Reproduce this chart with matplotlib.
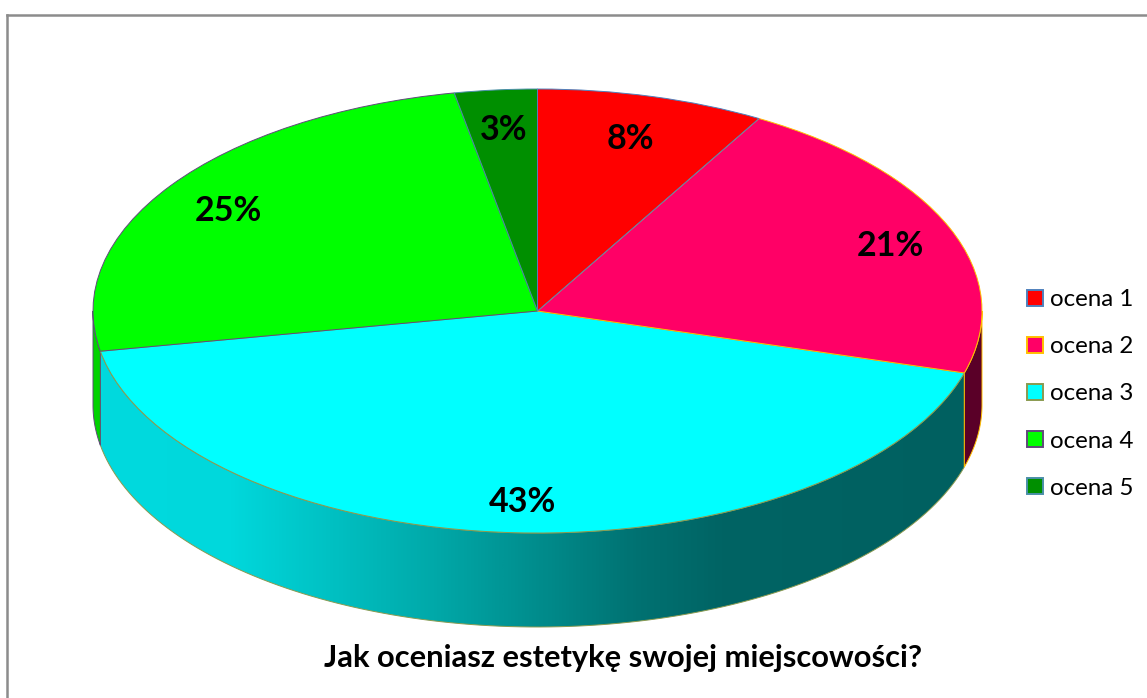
#!/usr/bin/env python3
# -*- coding: utf-8 -*-
"""Tilted 3D-look pie chart: Jak oceniasz estetyke swojej miejscowosci?"""

import numpy as np
import matplotlib
matplotlib.use("Agg")
import matplotlib.pyplot as plt
from matplotlib.colors import LinearSegmentedColormap
from matplotlib.patches import Patch, Polygon

# ---- DATA ----
categories = ["ocena 1", "ocena 2", "ocena 3", "ocena 4", "ocena 5"]
values = [8.3, 21.2, 42.6, 24.9, 3.0]
title = "Jak oceniasz estetykę swojej miejscowości?"

# ---- STYLE ----
face_colors = ["#FF0000", "#FF0066", "#00FFFF", "#00FF00", "#008F00"]
edge_colors = ["#4F81BD", "#FFC000", "#8A9A50", "#604A7B", "#4A8FA8"]
wall_colors = ["#B00000", "#5A0028", "#00D8DC", "#00D200", "#006600"]
cyan_wall_stops = [(0.0, "#00DADE"), (0.15, "#00D8DC"), (0.39, "#00A8A8"),
                   (0.62, "#007272"), (0.72, "#006464"), (1.0, "#006060")]
face_zorder = [3.5, 3.4, 3.0, 3.2, 3.3]  # which outline wins on a shared border
wall_zorder = [2.0, 2.2, 2.0, 2.0, 2.0]

W, H = 1147, 698
cx, cy, rx, ry, depth_px = 537.5, 311.0, 444.5, 222.0, 94.0
depth = depth_px / ry
label_px = [(630, 139), (890, 246), (522, 502), (228, 211), (504, 130)]

plt.rcParams["font.family"] = ["Lato", "DejaVu Sans"]


def to_unit(px, py):
    return (px - cx) / rx, (cy - py) / ry


def main():
    fig = plt.figure(figsize=(W / 100, H / 100), dpi=100)
    ax = fig.add_axes([0, 0, 1, 1])

    # outer chart frame, right and bottom sides are cut off in the picture
    fig.add_artist(plt.Line2D([7.5 / W, 7.5 / W], [0, 1 - 15 / H], color="#8C8C8C", lw=1.8))
    fig.add_artist(plt.Line2D([7.5 / W, 1], [1 - 15 / H, 1 - 15 / H], color="#8C8C8C", lw=1.8))

    # side wall, only the front half (90..270 deg clockwise from top) shows
    edges = np.cumsum([0] + values) / sum(values) * 360
    for i in range(len(values)):
        t0, t1 = max(edges[i], 90), min(edges[i + 1], 270)
        if t1 <= t0:
            continue
        t = np.radians(np.linspace(t0, t1, 120))
        x, y = np.sin(t), np.cos(t)
        pts = np.column_stack([np.r_[x, x[::-1]], np.r_[y, y[::-1] - depth]])
        if categories[i] == "ocena 3":
            poly = Polygon(pts, closed=True, facecolor="none", edgecolor=edge_colors[i], lw=0.7,
                           zorder=wall_zorder[i])
            ax.add_patch(poly)
            cmap = LinearSegmentedColormap.from_list("wall", cyan_wall_stops)
            img = ax.imshow(np.linspace(0, 1, 512)[None, :], cmap=cmap, aspect="auto",
                            extent=(x.min(), x.max(), -1 - depth, 0), zorder=1)
            img.set_clip_path(poly)
        else:
            ax.add_patch(Polygon(pts, closed=True, facecolor=wall_colors[i],
                                 edgecolor=edge_colors[i], lw=0.7, zorder=wall_zorder[i]))

    # top face, axes are not equal so the circle gets squashed into an ellipse
    wedges, _ = ax.pie(values, startangle=90, counterclock=False, colors=face_colors, radius=1,
                       wedgeprops={"linewidth": 0.7})
    for w, ec, z in zip(wedges, edge_colors, face_zorder):
        w.set_edgecolor(ec)
        w.set_zorder(z)

    ax.set_aspect("auto")
    ax.set_xlim(to_unit(0, 0)[0], to_unit(W, 0)[0])
    ax.set_ylim(to_unit(0, H)[1], to_unit(0, 0)[1])
    ax.axis("off")

    for v, (px, py) in zip(values, label_px):
        lx, ly = to_unit(px, py)
        ax.text(lx, ly, f"{v:.0f}%", ha="center", va="center", fontsize=24.5,
                fontweight="bold", color="black", zorder=5)

    ax.text(*to_unit(623.5, 658), title, ha="center", va="center", fontsize=22.2,
            fontweight="bold", color="black", zorder=5)

    handles = [Patch(facecolor=f, edgecolor=e, linewidth=1.4) for f, e in zip(face_colors, edge_colors)]
    ax.legend(handles, categories, loc="center left", bbox_to_anchor=(1027 / W, 1 - 394 / H),
              bbox_transform=fig.transFigure, frameon=False, fontsize=17.4, handlelength=0.66,
              handleheight=0.66, handletextpad=0.28, labelspacing=1.08, borderpad=0, borderaxespad=0)

    fig.savefig("out.png", dpi=100)
    plt.close(fig)


if __name__ == "__main__":
    main()
